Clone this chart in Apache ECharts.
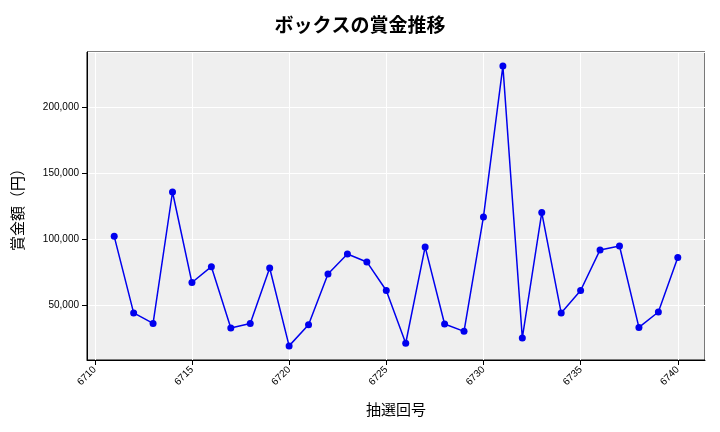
<!DOCTYPE html><html><head><meta charset="utf-8"><script src="https://cdn.jsdelivr.net/npm/echarts@6/dist/echarts.min.js"></script></head><body style="margin:0"><div id="c" style="width:720px;height:432px"></div><script>
const draws=[6711,6712,6713,6714,6715,6716,6717,6718,6719,6720,6721,6722,6723,6724,6725,6726,6727,6728,6729,6730,6731,6732,6733,6734,6735,6736,6737,6738,6739,6740];
const prizes=[102000,44000,36000,135600,67000,79000,32500,36000,78000,19000,35000,73500,88600,82600,61000,21000,94000,35600,30000,116700,231000,25000,120000,44000,61000,91700,94700,33000,44700,86000];
const c=echarts.init(document.getElementById('c'));
const f='"Noto Sans CJK JP"';
c.setOption({
title:{text:'ボックスの賞金推移',left:'center',top:10,textStyle:{fontFamily:f,fontSize:19,fontWeight:'bold',color:'#000'}},
grid:{left:87,right:15,top:52,bottom:72,show:true,backgroundColor:'#efefef',borderColor:'#000',borderWidth:1},
xAxis:{type:'value',min:6709.6,max:6741.4,splitNumber:6,name:'抽選回号',nameLocation:'middle',nameGap:42,nameTextStyle:{fontFamily:f,fontSize:15,color:'#000'},
axisLine:{lineStyle:{color:'#000'}},axisTick:{show:true,lineStyle:{color:'#000'}},splitLine:{lineStyle:{color:'#fff'}},
axisLabel:{rotate:45,fontSize:10,color:'#000',showMinLabel:false,showMaxLabel:false,formatter:v=>String(v)}},
yAxis:{type:'value',min:8300,max:241700,splitNumber:5,name:'賞金額（円）',nameLocation:'middle',nameGap:62,nameTextStyle:{fontFamily:f,fontSize:15,color:'#000'},
axisLine:{show:true,lineStyle:{color:'#000'}},axisTick:{show:true,lineStyle:{color:'#000'}},splitLine:{lineStyle:{color:'#fff'}},
axisLabel:{fontSize:10,color:'#000',showMinLabel:false,showMaxLabel:false,formatter:v=>v.toLocaleString('en-US')}},
series:[{type:'line',data:draws.map((d,i)=>[d,prizes[i]]),color:'#0000ee',symbol:'circle',symbolSize:7,lineStyle:{width:1.5,color:'#0000ee'},itemStyle:{color:'#0000ee'}}]
});
</script></body></html>
